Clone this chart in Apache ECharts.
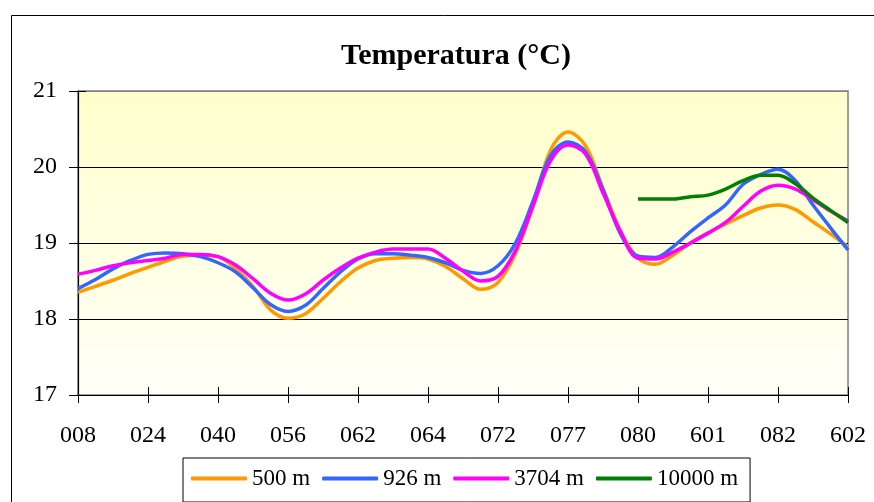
<!DOCTYPE html>
<html>
<head>
<meta charset="utf-8">
<script src="https://cdn.jsdelivr.net/npm/echarts@6/dist/echarts.min.js"></script>
<style>
html,body{margin:0;padding:0;background:#fff;}
#chart{width:874px;height:502px;}
</style>
</head>
<body>
<div id="chart"></div>
<script>
// X-axis tick labels (one per major tick); readings are taken every quarter step between them
const categories = ['008','024','040','056','062','064','072','077','080','601','082','602'];
const stepsPerCategory = 4;

const s500 = [18.35,18.43,18.51,18.60,18.68,18.76,18.83,18.84,18.82,18.66,
  18.43,18.12,18.01,18.07,18.27,18.49,18.67,18.77,18.80,18.81,
  18.79,18.69,18.53,18.39,18.48,18.86,19.48,20.22,20.46,20.28,
  19.72,19.16,18.80,18.72,18.84,19.00,19.13,19.25,19.36,19.46,
  19.50,19.44,19.28,19.12,18.95];
const s926 = [18.40,18.52,18.66,18.77,18.85,18.87,18.86,18.82,18.74,18.62,
  18.41,18.19,18.10,18.18,18.40,18.62,18.79,18.86,18.86,18.84,
  18.81,18.74,18.64,18.60,18.70,19.00,19.55,20.15,20.33,20.20,
  19.70,19.12,18.83,18.81,18.95,19.15,19.33,19.50,19.77,19.90,
  19.97,19.82,19.50,19.20,18.91];
const s3704 = [18.59,18.64,18.70,18.74,18.77,18.80,18.85,18.85,18.82,18.71,
  18.53,18.34,18.25,18.33,18.51,18.67,18.80,18.88,18.92,18.92,
  18.92,18.80,18.63,18.50,18.56,18.90,19.49,20.08,20.29,20.17,
  19.66,19.15,18.80,18.79,18.88,19.00,19.13,19.27,19.48,19.68,
  19.76,19.71,19.57,19.42,19.29];
const s10000 = [null,null,null,null,null,null,null,null,null,null,
  null,null,null,null,null,null,null,null,null,null,
  null,null,null,null,null,null,null,null,null,null,
  null,null,19.58,19.58,19.58,19.61,19.63,19.71,19.82,19.89,
  19.89,19.78,19.59,19.43,19.27];

const seriesNames = ['500 m','926 m','3704 m','10000 m'];
const seriesColors = ['#FF9900','#3366FF','#FF00FF','#008000'];
const yTicks = [17,18,19,20,21];

function toPoints(arr){
  const out = [];
  arr.forEach((v,i)=>{ if(v!==null) out.push([i/stepsPerCategory, v]); });
  return out;
}

const FONT = 'Liberation Serif';
const chart = echarts.init(document.getElementById('chart'), null, {renderer:'canvas'});

const xCommon = {type:'value', min:0, max:categories.length-1, interval:1, gridIndex:0};
const yCommon = {type:'value', min:yTicks[0], max:yTicks[yTicks.length-1], interval:1, gridIndex:0};

chart.setOption({
  animation:false,
  backgroundColor:'#ffffff',
  title:{
    text:'Temperatura (°C)',
    left:451, top:36, textAlign:'center',
    textStyle:{fontFamily:FONT, fontWeight:'bold', fontSize:30, color:'#000'}
  },
  graphic:[{
    type:'rect', left:9, top:13, z:-10,
    shape:{width:900, height:600},
    style:{fill:'none', stroke:'#000', lineWidth:1}
  }],
  legend:{
    left:183, top:458,
    padding:[9,12,12,8],
    borderColor:'#000', borderWidth:1,
    itemWidth:56, itemHeight:4, itemGap:12,
    icon:'roundRect',
    textStyle:{fontFamily:FONT, fontSize:23, color:'#000', padding:[0,0,0,0]},
    data:seriesNames
  },
  grid:{
    left:78, right:26, top:91, bottom:107,
    show:true,
    borderColor:'#808080', borderWidth:1.5,
    backgroundColor:new echarts.graphic.LinearGradient(0,0,0,1,[
      {offset:0, color:'#FFFFCC'},
      {offset:1, color:'#FFFFF8'}
    ])
  },
  xAxis:[
    Object.assign({}, xCommon, {
      axisLine:{show:true, onZero:false, lineStyle:{color:'#000', width:1.2}},
      axisTick:{show:true, inside:false, length:8, lineStyle:{color:'#000'}},
      axisLabel:{margin:29, fontFamily:FONT, fontSize:24, color:'#000',
        formatter:(v)=>categories[Math.round(v)] || ''},
      splitLine:{show:false}
    }),
    Object.assign({}, xCommon, {
      position:'bottom',
      axisLine:{show:false},
      axisTick:{show:true, inside:true, length:8, lineStyle:{color:'#000'}},
      axisLabel:{show:false},
      splitLine:{show:false}
    })
  ],
  yAxis:[
    Object.assign({}, yCommon, {
      axisLine:{show:true, onZero:false, lineStyle:{color:'#000', width:1.2}},
      axisTick:{show:true, inside:false, length:9, lineStyle:{color:'#000'}},
      axisLabel:{margin:21, fontFamily:FONT, fontSize:24, color:'#000'},
      splitLine:{show:true, lineStyle:{color:['#000','#000','#000','#000','#808080'], width:1}}
    }),
    Object.assign({}, yCommon, {
      position:'left',
      axisLine:{show:false},
      axisTick:{show:true, inside:true, length:8, lineStyle:{color:'#000'}},
      axisLabel:{show:false},
      splitLine:{show:false}
    })
  ],
  series:[s500, s926, s3704, s10000].map((arr, i)=>({
    name:seriesNames[i],
    type:'line',
    xAxisIndex:0, yAxisIndex:0,
    data:toPoints(arr),
    smooth:0.35,
    showSymbol:false,
    symbol:'none',
    itemStyle:{color:seriesColors[i]},
    lineStyle:{color:seriesColors[i], width:3.5},
    z:2+i
  }))
});
</script>
</body>
</html>
